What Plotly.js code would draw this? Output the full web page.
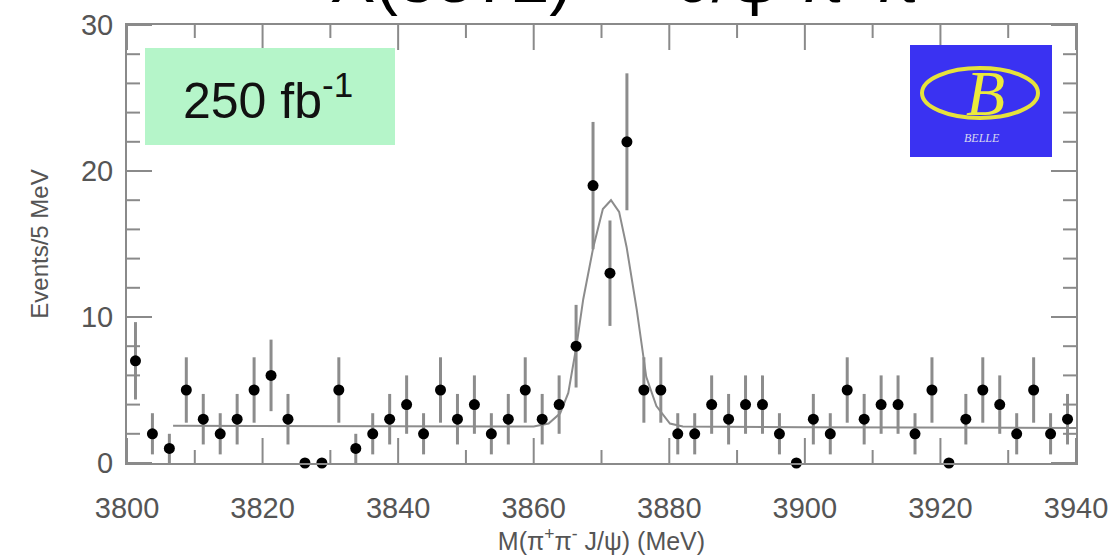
<!DOCTYPE html>
<html>
<head>
<meta charset="utf-8">
<script src="https://cdn.plot.ly/plotly-3.0.1.min.js"></script>
<style>html,body{margin:0;padding:0;background:#fff;}#chart{width:1119px;height:560px;}</style>
</head>
<body>
<div id="chart"></div>
<script>
// Bin centres (MeV), 2.5 MeV bins
const binCenters = [3801.25,3803.75,3806.25,3808.75,3811.25,3813.75,3816.25,3818.75,3821.25,3823.75,
  3826.25,3828.75,3831.25,3833.75,3836.25,3838.75,3841.25,3843.75,3846.25,3848.75,
  3851.25,3853.75,3856.25,3858.75,3861.25,3863.75,3866.25,3868.75,3871.25,3873.75,
  3876.25,3878.75,3881.25,3883.75,3886.25,3888.75,3891.25,3893.75,3896.25,3898.75,
  3901.25,3903.75,3906.25,3908.75,3911.25,3913.75,3916.25,3918.75,3921.25,3923.75,
  3926.25,3928.75,3931.25,3933.75,3936.25,3938.75];
const counts = [7,2,1,5,3,2,3,5,6,3,
  0,0,5,1,2,3,4,2,5,3,
  4,2,3,5,3,4,8,19,13,22,
  5,5,2,2,4,3,4,4,2,0,
  3,2,5,3,4,4,2,5,0,3,
  5,4,2,5,2,3];
const countErrors = [2.65,1.41,1,2.24,1.73,1.41,1.73,2.24,2.45,1.73,
  0,0,2.24,1,1.41,1.73,2,1.41,2.24,1.73,
  2,1.41,1.73,2.24,1.73,2,2.83,4.36,3.61,4.69,
  2.24,2.24,1.41,1.41,2,1.73,2,2,1.41,0,
  1.73,1.41,2.24,1.73,2,2,1.41,2.24,0,1.73,
  2.24,2,1.41,2.24,1.41,1.73];
// Fit curve
const fitX = [3806.8,3850,3860,3862.2,3863.9,3865.1,3866.3,3867.3,3868.8,3870.2,3871.4,3872.6,3873.7,3875.2,3876.6,3878.1,3880.1,3882,3900,3940];
const fitY = [2.55,2.52,2.5,2.7,3.4,4.8,8.0,11.2,14.8,17.4,18.0,17.2,14.8,10.5,5.9,3.9,2.7,2.5,2.45,2.4];

// Tick values
const xMajorTicks = [3800,3820,3840,3860,3880,3900,3920,3940];
const xMinorTicks = [3810,3830,3850,3870,3890,3910,3930];
const yMajorTicks = [0,10,20,30];
const yMinorTicks = [2,4,6,8,12,14,16,18,22,24,26,28];

const L=127, R=1076, T=25, B=463;
const px = x => (x-L)/(R-L);
const py = y => (B-y)/(B-T);

const axisCol = '#8a8a8a';
const tickFont = {family:'Liberation Sans, Arial, sans-serif', size:29, color:'#555'};

const traces = [
  {x: fitX, y: fitY, mode:'lines', line:{color:'#8c8c8c', width:2}, hoverinfo:'skip', showlegend:false},
  {x: binCenters, y: counts, mode:'markers', cliponaxis:false,
   marker:{color:'#000', size:11},
   error_y:{type:'data', array: countErrors, visible:true, color:'#8c8c8c', thickness:3, width:0},
   showlegend:false}
];

// tick marks as axis-referenced line shapes (inside, mirrored)
const tickShapes = [];
const MAJ = 25, MIN = 13;
function xTick(v, len){
  const h = len/(B-T);
  tickShapes.push({type:'line', xref:'x', yref:'paper', x0:v, x1:v, y0:0, y1:h, line:{color:axisCol, width:2}, layer:'above'});
  tickShapes.push({type:'line', xref:'x', yref:'paper', x0:v, x1:v, y0:1, y1:1-h, line:{color:axisCol, width:2}, layer:'above'});
}
function yTick(v, len){
  const w = len/(R-L);
  tickShapes.push({type:'line', xref:'paper', yref:'y', x0:0, x1:w, y0:v, y1:v, line:{color:axisCol, width:2}, layer:'above'});
  tickShapes.push({type:'line', xref:'paper', yref:'y', x0:1, x1:1-w, y0:v, y1:v, line:{color:axisCol, width:2}, layer:'above'});
}
xMajorTicks.forEach(v=>xTick(v, MAJ));
xMinorTicks.forEach(v=>xTick(v, MIN));
yMajorTicks.forEach(v=>yTick(v, MAJ));
yMinorTicks.forEach(v=>yTick(v, MIN));

const layout = {
  width:1119, height:560,
  margin:{l:L, r:1119-R, t:T, b:560-B},
  paper_bgcolor:'#fff', plot_bgcolor:'#fff',
  showlegend:false,
  xaxis:{range:[3800,3940], tickvals:xMajorTicks, ticktext:xMajorTicks.map(String),
    ticks:'', showline:true, linecolor:axisCol, linewidth:2, mirror:true,
    showgrid:false, zeroline:false, tickfont:tickFont, ticklabelstandoff:18,
    title:{text:'M(π<sup>+</sup>π<sup>-</sup> J/ψ) (MeV)', font:{family:'Liberation Sans, Arial, sans-serif', size:25, color:'#555'}, standoff:4}},
  yaxis:{range:[0,30], tickvals:yMajorTicks, ticktext:yMajorTicks.map(String),
    ticks:'', showline:true, linecolor:axisCol, linewidth:2, mirror:true,
    showgrid:false, zeroline:false, tickfont:tickFont, ticklabelstandoff:6,
    title:{text:'Events/5 MeV', font:{family:'Liberation Sans, Arial, sans-serif', size:24, color:'#555'}, standoff:26}},
  shapes:tickShapes.concat([
    {type:'rect', xref:'paper', yref:'paper', x0:px(145), x1:px(395), y0:py(145), y1:py(48), fillcolor:'#b5f5c9', line:{width:0}, layer:'above'},
    {type:'rect', xref:'paper', yref:'paper', x0:px(910), x1:px(1052), y0:py(157), y1:py(45), fillcolor:'#3a32f2', line:{width:0}, layer:'above'},
    {type:'circle', xref:'paper', yref:'paper', x0:px(922), x1:px(1038), y0:py(118), y1:py(68), line:{color:'#e6e23c', width:4}, layer:'above'}
  ]),
  annotations:[
    {text:'250 fb<sup>-1</sup>', xref:'paper', yref:'paper', x:px(268), y:py(97), xanchor:'center', yanchor:'middle', showarrow:false,
     font:{family:'Liberation Sans, Arial, sans-serif', size:50, color:'#111'}},
    {text:'<i>B</i>', xref:'paper', yref:'paper', x:px(985), y:py(93), xanchor:'center', yanchor:'middle', showarrow:false,
     font:{family:'Liberation Serif, serif', size:64, color:'#ecea3c'}},
    {text:'<i>BELLE</i>', xref:'paper', yref:'paper', x:px(982), y:py(138), xanchor:'center', yanchor:'middle', showarrow:false,
     font:{family:'Liberation Serif, serif', size:12, color:'#d8d8f0'}},
    {text:'X(3872) → J/ψ π<sup>+</sup>π<sup>-</sup>', xref:'paper', yref:'paper', x:px(632), y:py(-27), xanchor:'center', yanchor:'middle', showarrow:false,
     font:{family:'Liberation Sans, Arial, sans-serif', size:68, color:'#000'}}
  ]
};

Plotly.newPlot('chart', traces, layout, {displayModeBar:false, staticPlot:true});
</script>
</body>
</html>
